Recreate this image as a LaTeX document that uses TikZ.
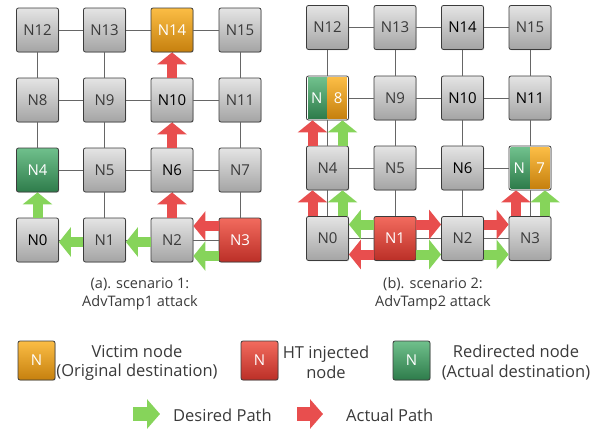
\documentclass[tikz,border=0pt]{standalone}
\usepackage{fontspec}
\setmainfont{Open Sans}
\usetikzlibrary{arrows.meta,shadows,calc}

\definecolor{gtop}{HTML}{E4E4E4}
\definecolor{gbot}{HTML}{A4A4A4}
\definecolor{edge}{HTML}{3C3C3C}
\definecolor{otop}{HTML}{FBBD45}
\definecolor{obot}{HTML}{C6800E}
\definecolor{rtop}{HTML}{F26B5E}
\definecolor{rbot}{HTML}{BB2F27}
\definecolor{ntop}{HTML}{70C08C}
\definecolor{nbot}{HTML}{2E7C4B}
\definecolor{redpath}{HTML}{E84E4E}
\definecolor{greenpath}{HTML}{86D45A}
\definecolor{link}{HTML}{666666}
\definecolor{txt}{HTML}{3A3A3A}

\tikzset{
  router/.style={draw=edge, line width=0.8pt, rounded corners=2pt,
    minimum width=42pt, minimum height=44pt, inner sep=0pt,
    top color=gtop, bottom color=gbot, font=\fontsize{15}{18}\selectfont,
    text=txt, drop shadow={shadow xshift=0.8pt, shadow yshift=-0.8pt, opacity=0.25}},
  hot/.style={text=black},
  victim/.style={router, top color=otop, bottom color=obot, text=white},
  trojan/.style={router, top color=rtop, bottom color=rbot, text=white},
  redirect/.style={router, top color=ntop, bottom color=nbot, text=white},
  splitbox/.style={router, top color=white, bottom color=white},
  half/.style={inner sep=0pt, text=white, font=\fontsize{15}{18}\selectfont},
  keybox/.style={draw=edge, line width=0.8pt, rounded corners=2pt,
    minimum width=37pt, minimum height=39pt, inner sep=0pt, text=white,
    font=\fontsize{15}{18}\selectfont,
    drop shadow={shadow xshift=0.8pt, shadow yshift=-0.8pt, opacity=0.25}},
  mesh/.style={draw=link, line width=0.9pt},
  gpath/.style={draw=greenpath, line width=10pt,
    -{Triangle[width=29pt,length=12pt]}},
  rpath/.style={draw=redpath, line width=10pt,
    -{Triangle[width=29pt,length=12pt]}},
  keyarrow/.style={line width=14pt, -{Triangle[width=29pt,length=13pt]}},
  caption/.style={align=center, text=txt, font=\fontsize{14.5}{18}\selectfont},
  keytext/.style={align=center, text=txt, font=\fontsize{16.5}{19.5}\selectfont},
}

\begin{document}
\begin{tikzpicture}[x=1pt,y=-1pt]
\useasboundingbox (0,0) rectangle (597,431);

% ---------- mesh (a) ----------
\node[router]        (a12) at (37.5,30)  {N12};
\node[router]        (a13) at (104.5,30) {N13};
\node[victim]        (a14) at (172,30)   {N14};
\node[router]        (a15) at (240,30)   {N15};
\node[router]        (a8)  at (37.5,100) {N8};
\node[router]        (a9)  at (104.5,100){N9};
\node[router,hot]    (a10) at (172,100)  {N10};
\node[router]        (a11) at (240,100)  {N11};
\node[redirect]      (a4)  at (37.5,170) {N4};
\node[router]        (a5)  at (104.5,170){N5};
\node[router,hot]    (a6)  at (172,170)  {N6};
\node[router]        (a7)  at (240,170)  {N7};
\node[router,hot]    (a0)  at (37.5,240) {N0};
\node[router]        (a1)  at (104.5,240){N1};
\node[router]        (a2)  at (172,240)  {N2};
\node[trojan]        (a3)  at (240,240)  {N3};

% ---------- mesh (b) ----------
\node[router]        (b12) at (327.5,27.5) {N12};
\node[router]        (b13) at (395,27.5)   {N13};
\node[router,hot]    (b14) at (462.5,27.5) {N14};
\node[router]        (b15) at (530,27.5)   {N15};
\node[splitbox]      (b8)  at (327.5,98)   {};
\node[router]        (b9)  at (395,98)     {N9};
\node[router,hot]    (b10) at (462.5,98)   {N10};
\node[router,hot]    (b11) at (530,98)     {N11};
\node[router]        (b4)  at (327.5,168)  {N4};
\node[router]        (b5)  at (395,168)    {N5};
\node[router,hot]    (b6)  at (462.5,168)  {N6};
\node[splitbox]      (b7)  at (530,168)    {};
\node[router]        (b0)  at (327.5,238.5){N0};
\node[trojan]        (b1)  at (395,238.5)  {N1};
\node[router]        (b2)  at (462.5,238.5){N2};
\node[router]        (b3)  at (530,238.5)  {N3};

% split routers: redirected half and victim half
\foreach \s in {b8,b7}{
  \fill[top color=ntop, bottom color=nbot]
    ([xshift=2pt,yshift=-2pt]\s.north west) rectangle ([yshift=2pt]\s.south);
  \fill[top color=otop, bottom color=obot]
    ([yshift=-2pt]\s.north) rectangle ([xshift=-2pt,yshift=2pt]\s.south east);
}
\node[half] at ($(b8.center)!0.5!(b8.west)$) {N};
\node[half] at ($(b8.center)!0.5!(b8.east)$) {8};
\node[half] at ($(b7.center)!0.5!(b7.west)$) {N};
\node[half] at ($(b7.center)!0.5!(b7.east)$) {7};

% ---------- links ----------
\foreach \m in {a,b}{
  \foreach \r in {0,4,8,12}{
    \pgfmathtruncatemacro\p{\r+1}
    \pgfmathtruncatemacro\q{\r+2}
    \pgfmathtruncatemacro\t{\r+3}
    \draw[mesh] (\m\r) -- (\m\p);
    \draw[mesh] (\m\p) -- (\m\q);
    \draw[mesh] (\m\q) -- (\m\t);
  }
  \foreach \c in {0,1,2,3}{
    \pgfmathtruncatemacro\p{\c+4}
    \pgfmathtruncatemacro\q{\c+8}
    \pgfmathtruncatemacro\t{\c+12}
    \draw[mesh] (\m\c) -- (\m\p);
    \draw[mesh] (\m\p) -- (\m\q);
    \draw[mesh] (\m\q) -- (\m\t);
  }
}

% ---------- paths (a) ----------
\draw[gpath] ([yshift=-16pt]a3.west) -- ([yshift=-16pt]a2.east);
\draw[rpath] ([yshift=14pt]a3.west) -- ([yshift=14pt]a2.east);
\draw[gpath] ([yshift=-2pt]a2.west) -- ([yshift=-2pt]a1.east);
\draw[gpath] ([yshift=-2pt]a1.west) -- ([yshift=-2pt]a0.east);
\draw[gpath] (a0.north) -- (a4.south);
\draw[rpath] (a2.north) -- (a6.south);
\draw[rpath] (a6.north) -- (a10.south);
\draw[rpath] (a10.north) -- (a14.south);

% ---------- paths (b) ----------
\draw[gpath] ([yshift=14pt]b1.west) -- ([yshift=14pt]b0.east);
\draw[rpath] ([yshift=-16pt]b1.west) -- ([yshift=-16pt]b0.east);
\draw[rpath] ([yshift=14pt]b1.east) -- ([yshift=14pt]b2.west);
\draw[gpath] ([yshift=-16pt]b1.east) -- ([yshift=-16pt]b2.west);
\draw[rpath] ([yshift=14pt]b2.east) -- ([yshift=14pt]b3.west);
\draw[gpath] ([yshift=-16pt]b2.east) -- ([yshift=-16pt]b3.west);
\draw[rpath] ([xshift=-15pt]b0.north) -- ([xshift=-15pt]b4.south);
\draw[gpath] ([xshift=15pt]b0.north) -- ([xshift=15pt]b4.south);
\draw[rpath] ([xshift=-15pt]b4.north) -- ([xshift=-15pt]b8.south);
\draw[gpath] ([xshift=15pt]b4.north) -- ([xshift=15pt]b8.south);
\draw[rpath] ([xshift=-14pt]b3.north) -- ([xshift=-14pt]b7.south);
\draw[gpath] ([xshift=15pt]b3.north) -- ([xshift=15pt]b7.south);

% ---------- captions ----------
\node[caption] (capa) at (140,294) {(a). scenario 1:\\AdvTamp1 attack};
\node[caption] (capb) at (433,294) {(b). scenario 2:\\AdvTamp2 attack};

% ---------- legend ----------
\node[keybox, top color=otop, bottom color=obot] (kv) at (36.5,360.5) {N};
\node[keytext] (kvt) at (137,362.5) {Victim node\\(Original destination)};
\node[keybox, top color=rtop, bottom color=rbot] (kh) at (259.5,360.5) {N};
\node[keytext] (kht) at (326,362.5) {HT injected\\node};
\node[keybox, top color=ntop, bottom color=nbot] (kr) at (411.5,360.5) {N};
\node[keytext] (krt) at (516,362.5) {Redirected node\\(Actual destination)};

\coordinate (kg1) at (133,414);
\coordinate (kg2) at (160,414);
\coordinate (kr1) at (297,414);
\coordinate (kr2) at (323,414);
\draw[keyarrow, draw=greenpath] (kg1) -- (kg2);
\draw[keyarrow, draw=redpath] (kr1) -- (kr2);
\node[keytext, anchor=west, inner sep=0pt] (kgt) at (173,415) {Desired Path};
\node[keytext, anchor=west, inner sep=0pt] (krt2) at (346,415) {Actual Path};
\end{tikzpicture}
\end{document}
